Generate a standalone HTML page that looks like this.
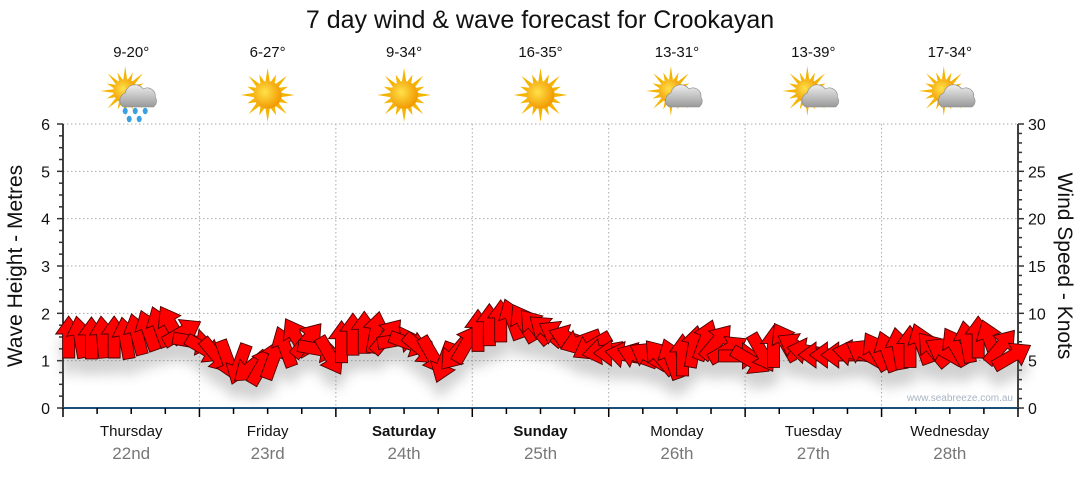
<!DOCTYPE html>
<html><head><meta charset="utf-8"><style>
body{margin:0;background:#fff;width:1080px;height:475px;overflow:hidden;font-family:"Liberation Sans",sans-serif}
</style></head><body>
<svg id="c" width="1080" height="475" xmlns="http://www.w3.org/2000/svg">
<defs>
<filter id="sh" x="-20%" y="-50%" width="140%" height="250%"><feGaussianBlur stdDeviation="6"/></filter>
<radialGradient id="sun" cx="40%" cy="40%" r="60%"><stop offset="0" stop-color="#ffe14a"/><stop offset="1" stop-color="#f29a00"/></radialGradient>
<linearGradient id="cl" x1="0" y1="0" x2="0" y2="1"><stop offset="0" stop-color="#eee"/><stop offset="1" stop-color="#999"/></linearGradient>
</defs>
<text x="540" y="28" text-anchor="middle" font-size="25" fill="#111">7 day wind &amp; wave forecast for Crookayan</text>
<text transform="translate(22,266) rotate(-90)" text-anchor="middle" font-size="21" fill="#111">Wave Height - Metres</text>
<text transform="translate(1058,266) rotate(90)" text-anchor="middle" font-size="21" fill="#111">Wind Speed - Knots</text>
<g id="grid"></g><g id="axes"></g><g id="icons"></g>
<g id="shadow" filter="url(#sh)" opacity="0.3"></g>
<g id="arrows"></g>
<text x="1013" y="401" text-anchor="end" font-size="10" fill="#a8b4c4">www.seabreeze.com.au</text>
</svg>
<script>
const days=["Thursday","Friday","Saturday","Sunday","Monday","Tuesday","Wednesday"];
const dates=["22nd","23rd","24th","25th","26th","27th","28th"];
const temps=["9-20°","6-27°","9-34°","16-35°","13-31°","13-39°","17-34°"];
const icons=["rain","sun","sun","sun","cloud","cloud","cloud"];
const boldDays=[false,false,true,true,false,false,false];
const windKts=[7.5,7.5,7.4,7.5,7.5,7.4,7.8,8.2,8.6,8.8,8.0,7.0,
6.2,5.5,5.0,4.6,4.3,4.5,5.2,6.5,7.5,7.2,6.2,5.5,
7.0,7.8,8.0,8.0,7.6,7.2,6.8,6.2,5.5,4.8,5.8,6.8,
8.2,8.8,9.2,9.4,9.0,8.6,8.2,7.8,7.4,7.0,6.5,6.0,
5.8,5.6,5.5,5.5,5.4,5.2,5.6,6.5,7.2,7.0,6.2,5.5,
5.0,5.8,6.5,7.0,6.5,6.0,5.6,5.6,5.6,5.8,5.8,6.0,
6.0,6.3,6.5,6.8,6.2,6.0,6.5,7.0,7.5,7.2,6.5,5.5];
const windDir=[0,-10,0,-5,0,-10,-15,-20,-20,-30,60,100,
120,140,160,200,230,30,20,-20,-30,40,100,150,
0,0,0,10,40,80,110,130,150,200,220,30,
0,0,0,-20,-30,-40,-50,-60,-70,-110,-120,-100,
-90,-80,-70,-60,-40,-20,0,10,20,40,60,90,
120,150,0,-30,-60,-80,-90,-90,-90,-80,-60,-30,
-20,-10,0,-20,-40,-60,-30,-10,0,-20,40,60];
const NS="http://www.w3.org/2000/svg";
const X0=63,X1=1018,Y0=408,Y6=124,DW=(X1-X0)/7;
const yM=m=>Y0-(Y0-Y6)*m/6, yK=k=>yM(k/5), xT=t=>X0+DW*t;
function mk(tag,attrs,parent){const e=document.createElementNS(NS,tag);for(const k in attrs)e.setAttribute(k,attrs[k]);parent.appendChild(e);return e;}
const grid=document.getElementById('grid'),axes=document.getElementById('axes');
for(let m=1;m<=6;m++){const g=mk('line',{x1:X0,x2:X1,y1:yM(m),y2:yM(m),stroke:'#aaa','stroke-dasharray':'1.5,2.5'},grid);

}
for(let d=1;d<7;d++){const g=mk('line',{x1:xT(d),x2:xT(d),y1:Y6,y2:Y0,stroke:'#aaa','stroke-dasharray':'1.5,2.5'},grid);

}
mk('line',{x1:X0,x2:X0,y1:Y6,y2:Y0,stroke:'#000','stroke-width':1.5},axes);
mk('line',{x1:X1,x2:X1,y1:Y6,y2:Y0,stroke:'#000','stroke-width':1.5},axes);
for(let i=0;i<=24;i++){const m=i/4,y=yM(m),maj=i%4==0;
mk('line',{x1:X0-(maj?6:4),x2:X0,y1:y,y2:y,stroke:'#333','stroke-width':1.5},axes);
if(maj){const t=mk('text',{x:X0-13,y:y+6,'text-anchor':'end','font-size':16,fill:'#111'},axes);t.textContent=m;

}}
for(let k=0;k<=30;k++){const y=yK(k),maj=k%5==0;
mk('line',{x1:X1,x2:X1+(maj?6:4),y1:y,y2:y,stroke:'#333','stroke-width':1.5},axes);
if(maj){const t=mk('text',{x:X1+10,y:y+6,'font-size':16,fill:'#111'},axes);t.textContent=k;

}}
mk('line',{x1:X0,x2:X1,y1:Y0,y2:Y0,stroke:'#1a4f7a','stroke-width':2},axes);
for(let q=0;q<=28;q++){const x=xT(q/4);mk('line',{x1:x,x2:x,y1:Y0,y2:Y0+(q%4==0?9:6),stroke:'#000','stroke-width':1.5},axes);}
const icg=document.getElementById('icons');
function sun(g,cx,cy,r){for(let i=0;i<16;i++){const a=i*Math.PI/8,L=i%2?r+8:r+13;
mk('polygon',{points:`${cx+Math.cos(a-0.15)*r},${cy+Math.sin(a-0.15)*r} ${cx+Math.cos(a)*L},${cy+Math.sin(a)*L} ${cx+Math.cos(a+0.15)*r},${cy+Math.sin(a+0.15)*r}`,fill:'#f5b400'},g);}
mk('circle',{cx,cy,r,fill:'url(#sun)'},g);}
function cloud(g,cx,cy){mk('path',{d:`M${cx-14} ${cy+10} a8 8 0 0 1 2 -14 a10 10 0 0 1 18 -4 a8 8 0 0 1 12 8 a7 7 0 0 1 -2 10 z`,fill:'url(#cl)',stroke:'#888','stroke-width':0.6},g);}
days.forEach((d,i)=>{const cx=xT(i+0.5);
let t=mk('text',{x:cx,y:57,'text-anchor':'middle','font-size':15,fill:'#111'},icg);t.textContent=temps[i];


const g=mk('g',{},icg);


if(icons[i]=='sun'){sun(g,cx,95,14);}else{sun(g,cx-6,91,12);cloud(g,cx+6,97);
if(icons[i]=='rain'){[[-6,111],[4,111],[14,111],[-2,119],[8,119]].forEach(p=>mk('ellipse',{cx:cx+p[0],cy:p[1],rx:2.5,ry:3.2,fill:'#3aa0e0'},g));}}
t=mk('text',{x:cx,y:436,'text-anchor':'middle','font-size':15,fill:'#111','font-weight':boldDays[i]?'bold':'normal'},axes);t.textContent=d;


t=mk('text',{x:cx,y:459,'text-anchor':'middle','font-size':17,fill:'#777'},axes);t.textContent=dates[i];

});
const ag=document.getElementById('arrows'),sg=document.getElementById('shadow');
const shape="M-6 21 L-6 -3 L-13 -3 L0 -21 L13 -3 L6 -3 L6 21 Z";
const n=windKts.length;
for(let i=0;i<n;i++){const x=xT((i+0.5)*7/n),y=yK(windKts[i]);
mk('path',{d:shape,transform:`translate(${x},${y+16}) rotate(${windDir[i]})`,fill:'#666'},sg);
const a=mk('path',{d:shape,transform:`translate(${x},${y}) rotate(${windDir[i]})`,fill:'#ff0000',stroke:'#4a0000','stroke-width':0.9},ag);

}
</script>
</body></html>
